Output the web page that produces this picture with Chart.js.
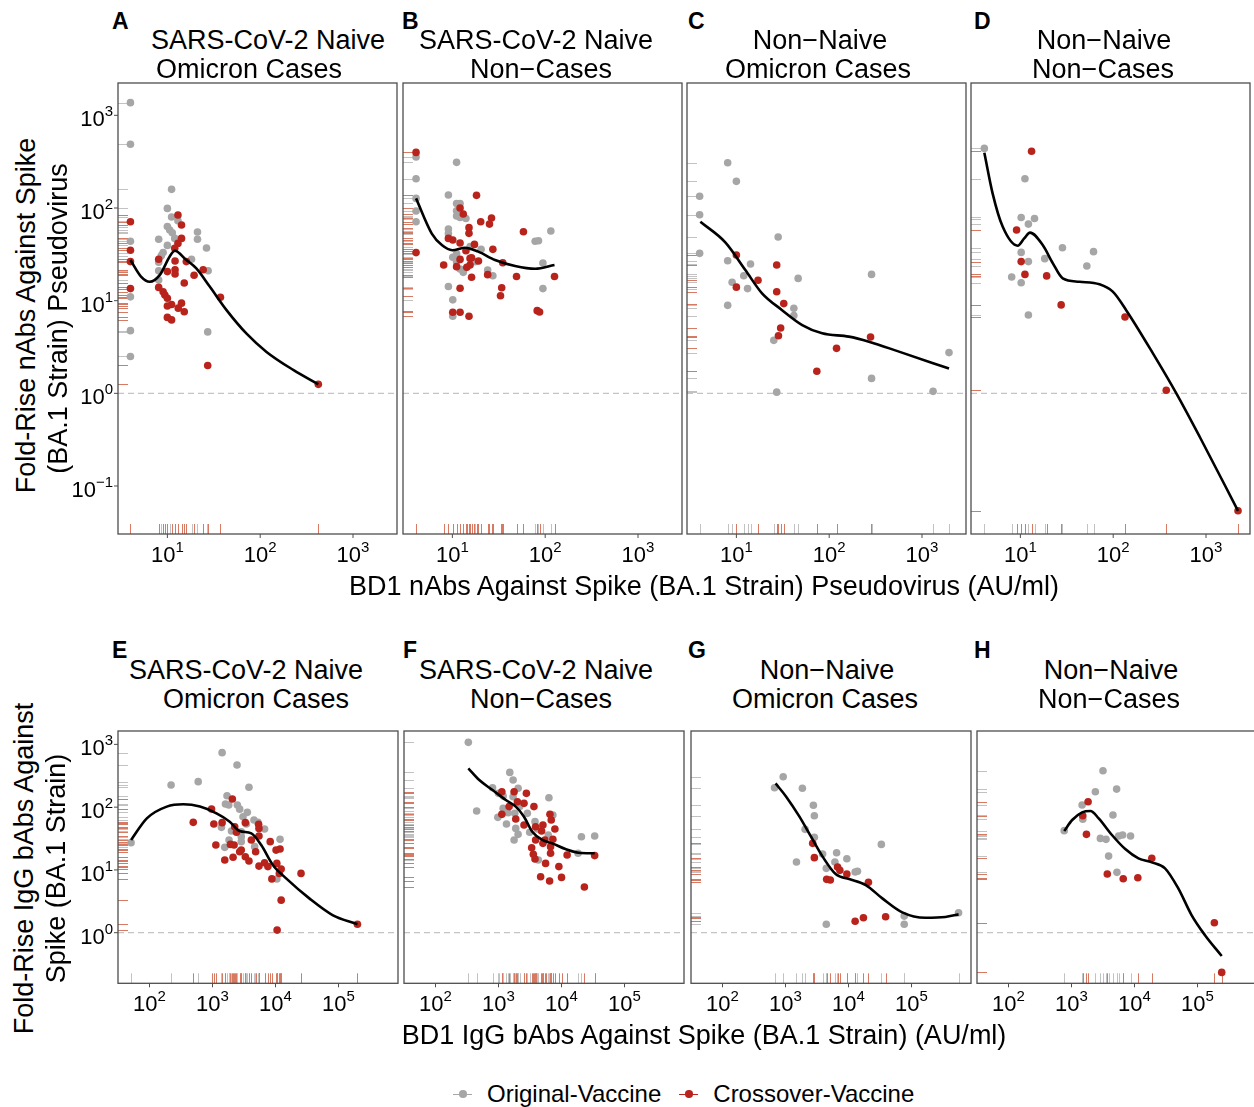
<!DOCTYPE html>
<html>
<head>
<meta charset="utf-8">
<script src="https://cdn.jsdelivr.net/npm/chart.js@4.4.1/dist/chart.umd.min.js"></script>
<style>
  html, body { margin: 0; padding: 0; background: #fff; }
  body { width: 1254px; height: 1107px; position: relative; overflow: hidden;
         font-family: 'Liberation Sans', Arial, sans-serif; color: #000; }
  canvas { position: absolute; }
  .txt { position: absolute; white-space: nowrap; line-height: 1; }
  .letter { font-weight: bold; font-size: 23px; }
  .title { font-size: 27px; width: 400px; text-align: center; }
  .axis { font-size: 27px; width: 1000px; text-align: center; }
  .yaxis { font-size: 27px; width: 500px; text-align: center; transform-origin: 50% 50%; }
  .legend { position: absolute; top: 1082px; left: 453px; font-size: 24px; line-height: 24px; }
  .key { display: inline-block; position: relative; width: 19px; height: 24px; vertical-align: top; margin-right: 15px; }
  .key::before { content: ''; position: absolute; left: 0; right: 0; top: 11.5px; height: 1.5px; background: var(--c); }
  .key::after { content: ''; position: absolute; left: 6px; top: 8px; width: 7.5px; height: 7.5px; border-radius: 50%; background: var(--c); }
</style>
</head>
<body>
<script>
// ---------- data ----------
// [x, y] pairs: x = BD1 antibody level (AU/ml), y = fold-rise

// Panel A - nAbs, SARS-CoV-2 naive, Omicron cases
const aOriginal = [[4.0,1370],[4.0,487],[4.0,43.7],[4.0,11],[4.0,4.75],[4.0,2.5],[11.1,159],[10,99],[11.1,80],[13,73],[10,63],[10.6,58],[11.3,54],[8.06,46],[12,47],[10,39.5],[9.0,33],[8.6,30.6],[8.06,26],[8.06,21],[8.06,16.7],[18.2,28],[21.1,55],[21.1,46],[26.4,37],[27.5,21],[27.2,4.6]];
const aCrossover = [[4.0,71],[4.0,35],[4.0,26.4],[4.0,13.5],[13,84],[14.2,65.6],[14.2,47],[13,41.5],[12,36.7],[8.06,28],[12.1,26.8],[12.1,21.5],[12.1,19.4],[10,20.6],[8.06,13.9],[9.0,12.5],[9.4,11.5],[10,10.6],[11.1,9.1],[10,8.75],[14.2,9.4],[13.1,8.3],[15.2,7.6],[15.2,15.5],[16,26.4],[19.4,18.8],[24.3,21.6],[10,6.6],[11.1,6.2],[37.3,10.9],[27.2,2.0],[423,1.25]];
const aSmooth = [[4.0,27.5],[5.2,18.2],[6.45,16],[8.3,19],[10.6,30],[12,34.6],[16,27.5],[20.5,22.3],[28.6,14.2],[43.4,7.9],[71.3,4.4],[117,2.8],[227,1.79],[423,1.25]];

// Panel B - nAbs, SARS-CoV-2 naive, non-cases
const bOriginal = [[4.06,355],[4.06,207],[4.06,127],[4.06,93],[4.06,71],[11.1,311],[9.06,138],[11.1,112],[12.1,112],[11.1,93.5],[11.1,82],[12.1,79],[14,77],[9.06,59.3],[9.06,53],[10.1,29.4],[11.1,32],[11.1,26.3],[12.1,22],[13.1,20.2],[17.6,26.3],[20.4,35.8],[15.5,38.3],[24,21.4],[27.3,18.6],[9.06,14.2],[10.1,10.2],[10.1,6.8],[78,43.7],[84.7,44.4],[115,56.5],[94.5,25.5],[94.5,13.5]];
const bCrossover = [[4.06,398],[4.06,33],[18.2,137],[12.1,100],[13.1,86],[15.1,61.4],[15.1,53.3],[26.4,78],[25.1,67],[20.2,71],[9.06,47],[10.1,45.2],[12.1,41.9],[17.3,40.5],[14,34.6],[27.3,35.8],[12.1,27.9],[15.5,28.6],[16.1,29.1],[19.1,26.8],[15.5,24.3],[14.3,22.9],[11.1,23.3],[8.06,24.3],[34.9,25.7],[58.3,55.5],[24,19.1],[16.1,17.9],[49.1,18.2],[126,18.2],[12.1,13.6],[34,13.8],[33,11.3],[10.1,7.5],[12.1,7.5],[15.1,6.8],[82,7.8],[87,7.55]];
const bSmooth = [[4.06,127],[6.0,53],[7.7,39.8],[10,35],[13.7,37.3],[19,33.8],[28.8,27.5],[47.4,23.7],[78,22.1],[126,24.3]];

// Panel C - nAbs, non-naive, Omicron cases
const cOriginal = [[4.02,134],[4.02,84.7],[4.02,32.4],[8.06,308],[10,194],[8.06,27],[14.2,24.9],[12,18.6],[9.0,15.8],[13.2,13.5],[8.06,8.9],[28.2,48.6],[46.3,17.4],[41.6,8.27],[41.6,6.9],[25.3,3.73],[27.2,1.03],[286,19.2],[286,1.45],[1316,1.05],[1954,2.75]];
const cCrossover = [[10,31.1],[10,14],[17.1,16.6],[27.2,24.3],[27.2,12.5],[32.4,9.3],[30,5.07],[28.4,4.19],[120,3.06],[73.6,1.73],[279,4.05]];
const cSmooth = [[4.09,71],[7.6,42.6],[12.5,21.4],[18.9,12],[31.1,7.9],[51.2,5.46],[84,4.44],[163,4.09],[268,3.61],[565,2.82],[1954,1.85]];

// Panel D - nAbs, non-naive, non-cases
const dOriginal = [[4.09,440],[11.2,207],[10.2,79],[14.2,77],[12.2,67],[10.2,33.2],[12.2,26.4],[18.3,28.4],[28.4,37.3],[61.4,33.8],[52,23.7],[8.06,18],[10.2,15.6],[12.2,7.0]];
const dCrossover = [[13.2,409],[9.1,58],[10.2,26.4],[11.2,19.2],[19.2,18.5],[27.5,9.0],[134,6.66],[373,1.08],[2213,0.054]];
const dSmooth = [[4.09,395],[5.02,144],[6.44,63],[9.36,39.2],[11,47],[12.7,54.2],[17.4,39.8],[22.4,25.3],[28.6,17.4],[43.4,16],[71.3,15],[99,12.5],[138,7.9],[268,2.7],[479,1.0],[855,0.34],[2213,0.054]];

// Panel E - IgG bAbs, SARS-CoV-2 naive, Omicron cases
const eOriginal = [[51,27.2],[220,225],[593,255],[1420,738],[2450,469],[3790,207],[1700,152],[1605,112],[1810,108],[2480,108],[2700,93],[3570,82.6],[3050,70.5],[4550,62.4],[5260,57.3],[6700,44.9],[3440,53.8],[1385,47.7],[2000,41.7],[2860,40.6],[1830,30],[2860,33.9],[1565,22.9],[4660,23.5],[2860,28.2],[11800,30.7],[10500,7.16]];
const eCrossover = [[2065,135],[965,93.4],[495,57.3],[1050,53.8],[1420,56.6],[3320,56.6],[5390,53.2],[5460,45.9],[2250,48.8],[2400,39.8],[4130,30],[5460,34.7],[1130,24.9],[1925,25.5],[2200,24.9],[2860,20.7],[2700,19.5],[4840,19.5],[8240,28.2],[11800,21.5],[10200,20.7],[2120,15.9],[1565,14.4],[3320,16.2],[3790,13.9],[5460,11.5],[6700,13],[7570,11.3],[10500,12.7],[12300,10.3],[11500,8.8],[8750,7.2],[25400,8.8],[12300,3.3],[10600,1.1],[199700,1.36]];
const eSmooth = [[51,30],[90.7,66.3],[188,102],[344,111],[632,102],[1157,79.6],[1878,58.7],[2700,41.7],[4130,38.3],[5930,24.9],[9070,12],[14740,7.34],[34400,3.52],[80350,1.91],[199700,1.36]];

// Panel F - IgG bAbs, SARS-CoV-2 naive, non-cases
const fOriginal = [[332,1077],[450,86.8],[804,204],[1000,166],[1185,150],[1510,358],[1705,270],[2046,200],[1705,147],[976,68.8],[1185,95.7],[1421,81.6],[1338,53.8],[1810,79.6],[2171,102],[2870,79.6],[1878,45.9],[2046,36.9],[1767,30],[3125,39.8],[3795,58.7],[4130,44.9],[4285,14.4],[6310,141],[6150,36],[7290,75],[18300,18.4],[20700,33.8],[33600,34.7]];
const fCrossover = [[1130,176],[1767,176],[2770,166],[1995,122],[2540,115],[3650,102],[1473,102],[1130,76.8],[1878,64.7],[2540,51.9],[3880,48.8],[5070,51.9],[6550,76.8],[6870,62.4],[7850,44.9],[4830,41.7],[7290,30.7],[5450,30],[3880,30],[3360,22.6],[5070,26.5],[6700,23.5],[6700,18.4],[3570,17.7],[3795,14.9],[5590,12.7],[12270,17.3],[9080,11.3],[10000,7.6],[4660,7.8],[6470,6.65],[23070,5.34],[33600,16.9]];
const fSmooth = [[332,415],[495,270],[804,187],[1305,130],[1878,102],[2540,70.5],[3440,40.6],[4950,30],[7130,26.5],[11550,21.5],[18800,18.8],[33600,18.4]];

// Panel G - IgG bAbs, non-naive, Omicron cases
const gOriginal = [[670,204],[919,305],[1853,200],[2770,107],[2870,73.1],[2046,44.3],[2870,33],[1493,13.4],[3880,17.9],[4440,10.6],[6080,13.4],[6470,18.8],[9410,15.1],[12740,9.27],[13870,9.5],[33200,25.5],[4440,1.36],[76600,1.84],[76600,1.36],[558000,2.08]];
const gCrossover = [[2700,26.5],[2870,15.7],[6700,11.1],[7290,9.85],[9410,8.6],[4500,7.08],[5140,6.9],[20700,6.34],[12740,1.52],[17250,1.73],[38800,1.8]];
const gSmooth = [[695,239],[1025,147],[1665,70.5],[2540,33.8],[3880,16.3],[6310,8.5],[10250,7.16],[18800,5.74],[34400,3.52],[71300,2.11],[166000,1.73],[344000,1.78],[558000,1.96]];

// Panel H - IgG bAbs, non-naive, non-cases
const hOriginal = [[766,42.2],[1473,108],[1510,64],[2390,176],[3160,381],[5200,194],[4550,75],[2870,31.8],[3530,30.7],[5590,34.7],[6470,36],[8650,34.7],[3880,16.6],[5260,9.15]];
const hCrossover = [[1833,122],[1510,73],[1726,36.9],[3700,8.6],[6620,7.25],[11290,7.52],[18800,15.3],[185000,1.44],[242000,0.233]];
const hSmooth = [[766,41.7],[1025,62.4],[1473,82.6],[1995,86.8],[2700,66.3],[4385,36],[7130,21.5],[11550,15.3],[18800,13.2],[30500,10.6],[49500,5.08],[80400,1.91],[130600,0.92],[242000,0.425]];

// tick exponents (labels are 10^n)
const topXTicks = [1, 2, 3];
const topYTicks = [-1, 0, 1, 2, 3];
const bottomXTicks = [2, 3, 4, 5];
const bottomYTicks = [0, 1, 2, 3];

const panelLetters = ['A', 'B', 'C', 'D', 'E', 'F', 'G', 'H'];
const panelTitles = [
    ['SARS-CoV-2 Naive', 'Omicron Cases'], ['SARS-CoV-2 Naive', 'Non\u2212Cases'],
    ['Non\u2212Naive', 'Omicron Cases'], ['Non\u2212Naive', 'Non\u2212Cases'],
    ['SARS-CoV-2 Naive', 'Omicron Cases'], ['SARS-CoV-2 Naive', 'Non\u2212Cases'],
    ['Non\u2212Naive', 'Omicron Cases'], ['Non\u2212Naive', 'Non\u2212Cases']
];
const seriesNames = ['Original-Vaccine', 'Crossover-Vaccine'];
const REF_FOLD = 1;

// ---------- styling ----------
const FONT = "'Liberation Sans', Arial, sans-serif";
const GREY = '#a6a6a6';
const RED = '#b8231c';
const GREY_RUG = '#c2c2c2';
const RED_RUG = '#d77a64';
const RUG_LEN = 10;
const PAD = { left: 70, right: 5, top: 5, bottom: 40 };

const topRange = { xmin: Math.pow(10, 0.468), xmax: Math.pow(10, 3.474), ymin: Math.pow(10, -1.518), ymax: Math.pow(10, 3.349) };
const bottomRange = { xmin: Math.pow(10, 1.5), xmax: Math.pow(10, 5.944), ymin: Math.pow(10, -0.806), ymax: Math.pow(10, 3.213) };

// plot rectangles in page pixels
const topLefts = [118.3, 402.5, 686.7, 970.9];
const bottomLefts = [118.3, 404, 690.5, 977];

// draws "10" with a raised exponent
function powLabel(ctx, exp, x, y, align) {
    const expStr = exp < 0 ? '\u2212' + Math.abs(exp) : String(exp);
    ctx.font = '22px ' + FONT;
    const w1 = ctx.measureText('10').width;
    ctx.font = '15px ' + FONT;
    const w2 = ctx.measureText(expStr).width;
    const start = align === 'center' ? x - (w1 + w2) / 2 : x - (w1 + w2);
    ctx.fillStyle = '#000';
    ctx.textAlign = 'left';
    ctx.textBaseline = 'alphabetic';
    ctx.font = '22px ' + FONT;
    ctx.fillText('10', start, y);
    ctx.font = '15px ' + FONT;
    ctx.fillText(expStr, start + w1, y - 10);
}

function decoPlugin(cfg) {
    return {
        id: 'deco',
        beforeDatasetsDraw(chart) {
            const { ctx, chartArea: a } = chart;
            const xs = chart.scales.x, ys = chart.scales.y;
            ctx.save();
            // dashed reference at fold-rise = 1
            ctx.strokeStyle = '#c4c4c4';
            ctx.lineWidth = 1.2;
            ctx.setLineDash([6, 4]);
            const yr = ys.getPixelForValue(REF_FOLD);
            ctx.beginPath();
            ctx.moveTo(a.left, yr);
            ctx.lineTo(a.right, yr);
            ctx.stroke();
            ctx.setLineDash([]);
            // marginal rugs
            cfg.rugs.forEach(r => {
                ctx.strokeStyle = r.color;
                ctx.lineWidth = 1;
                r.pts.forEach(([vx, vy]) => {
                    const px = Math.round(xs.getPixelForValue(vx)) + 0.5;
                    const py = Math.round(ys.getPixelForValue(vy)) + 0.5;
                    if (px >= a.left && px <= a.right) {
                        ctx.beginPath();
                        ctx.moveTo(px, a.bottom);
                        ctx.lineTo(px, a.bottom - RUG_LEN);
                        ctx.stroke();
                    }
                    if (py >= a.top && py <= a.bottom) {
                        ctx.beginPath();
                        ctx.moveTo(a.left, py);
                        ctx.lineTo(a.left + RUG_LEN, py);
                        ctx.stroke();
                    }
                });
            });
            ctx.restore();
        },
        afterDraw(chart) {
            const { ctx, chartArea: a } = chart;
            const xs = chart.scales.x, ys = chart.scales.y;
            ctx.save();
            ctx.strokeStyle = '#4d4d4d';
            ctx.lineWidth = 1.3;
            ctx.strokeRect(a.left, a.top, a.right - a.left, a.bottom - a.top);
            ctx.lineWidth = 1;
            cfg.xTicks.forEach(e => {
                const px = xs.getPixelForValue(Math.pow(10, e));
                ctx.strokeStyle = '#4d4d4d';
                ctx.beginPath();
                ctx.moveTo(px, a.bottom);
                ctx.lineTo(px, a.bottom + 4);
                ctx.stroke();
                powLabel(ctx, e, px, a.bottom + 28, 'center');
            });
            if (cfg.yTicks) {
                cfg.yTicks.forEach(e => {
                    const py = ys.getPixelForValue(Math.pow(10, e));
                    ctx.strokeStyle = '#4d4d4d';
                    ctx.beginPath();
                    ctx.moveTo(a.left - 4, py);
                    ctx.lineTo(a.left, py);
                    ctx.stroke();
                    powLabel(ctx, e, a.left - 5, py + 11, 'right');
                });
            }
            ctx.restore();
        }
    };
}

const toXY = pts => pts.map(([x, y]) => ({ x: x, y: y }));

function makePanel(left, top, width, height, range, orig, cross, smooth, xTicks, yTicks) {
    const canvas = document.createElement('canvas');
    canvas.width = Math.ceil(width + PAD.left + PAD.right);
    canvas.height = Math.ceil(height + PAD.top + PAD.bottom);
    canvas.style.left = (left - PAD.left) + 'px';
    canvas.style.top = (top - PAD.top) + 'px';
    document.body.appendChild(canvas);

    new Chart(canvas, {
        type: 'scatter',
        data: {
            datasets: [
                { label: 'smooth', data: toXY(smooth), showLine: true, borderColor: '#000', borderWidth: 2.6,
                  pointRadius: 0, cubicInterpolationMode: 'monotone', fill: false, order: 0 },
                { label: seriesNames[1], data: toXY(cross), backgroundColor: RED, borderWidth: 0, pointRadius: 3.8, order: 1 },
                { label: seriesNames[0], data: toXY(orig), backgroundColor: GREY, borderWidth: 0, pointRadius: 3.8, order: 2 }
            ]
        },
        options: {
            responsive: false,
            animation: false,
            layout: { padding: { left: PAD.left, right: canvas.width - PAD.left - width, top: PAD.top, bottom: canvas.height - PAD.top - height } },
            scales: {
                x: { type: 'logarithmic', min: range.xmin, max: range.xmax, display: false },
                y: { type: 'logarithmic', min: range.ymin, max: range.ymax, display: false }
            },
            plugins: { legend: { display: false }, tooltip: { enabled: false } }
        },
        plugins: [decoPlugin({
            xTicks: xTicks, yTicks: yTicks,
            rugs: [{ color: GREY_RUG, pts: orig }, { color: RED_RUG, pts: cross }]
        })]
    });
}

const topSets = [[aOriginal, aCrossover, aSmooth], [bOriginal, bCrossover, bSmooth], [cOriginal, cCrossover, cSmooth], [dOriginal, dCrossover, dSmooth]];
const bottomSets = [[eOriginal, eCrossover, eSmooth], [fOriginal, fCrossover, fSmooth], [gOriginal, gCrossover, gSmooth], [hOriginal, hCrossover, hSmooth]];

topSets.forEach((s, i) => makePanel(topLefts[i], 83, 279, 451, topRange, s[0], s[1], s[2], topXTicks, i === 0 ? topYTicks : null));
bottomSets.forEach((s, i) => makePanel(bottomLefts[i], 731, 280, 252.3, bottomRange, s[0], s[1], s[2], bottomXTicks, i === 0 ? bottomYTicks : null));

// ---------- text ----------
function addText(cls, text, left, top) {
    const d = document.createElement('div');
    d.className = 'txt ' + cls;
    d.textContent = text;
    d.style.left = left + 'px';
    d.style.top = top + 'px';
    document.body.appendChild(d);
    return d;
}

// baseline -> top for line-height 1 text
const topFor = (baseline, fs) => baseline - 0.8465 * fs;

const letterX = [112, 402, 688, 974, 112, 403, 688, 974];
panelLetters.forEach((L, i) => addText('letter', L, letterX[i], topFor(i < 4 ? 29 : 658, 23)));

const titleCenters = [[268, 249], [536, 541], [820, 818], [1104, 1103], [246, 256], [536, 541], [827, 825], [1111, 1109]];
panelTitles.forEach((lines, i) => {
    const b1 = i < 4 ? 50 : 680;
    addText('title', lines[0], titleCenters[i][0] - 200, topFor(b1, 27));
    addText('title', lines[1], titleCenters[i][1] - 200, topFor(b1 + 29, 27));
});

addText('axis', 'BD1 nAbs Against Spike (BA.1 Strain) Pseudovirus (AU/ml)', 704 - 500, topFor(596, 27));
addText('axis', 'BD1 IgG bAbs Against Spike (BA.1 Strain) (AU/ml)', 704 - 500, topFor(1045, 27));

function addYTitle(text, cx, cy) {
    const d = addText('yaxis', text, cx - 250, cy - 13.5);
    d.style.height = '27px';
    d.style.transform = 'rotate(-90deg)';
}
addYTitle('Fold-Rise nAbs Against Spike', 26, 315);
addYTitle('(BA.1 Strain) Pseudovirus', 58, 318);
addYTitle('Fold-Rise IgG bAbs Against', 24, 868);
addYTitle('Spike (BA.1 Strain)', 56, 868);

// legend
const legend = document.createElement('div');
legend.className = 'legend';
legend.innerHTML =
    '<span class="key" style="--c:' + GREY + '"></span><span style="margin-right:18px">' + seriesNames[0] + '</span>' +
    '<span class="key" style="--c:' + RED + '"></span><span>' + seriesNames[1] + '</span>';
document.body.appendChild(legend);
</script>
</body>
</html>
